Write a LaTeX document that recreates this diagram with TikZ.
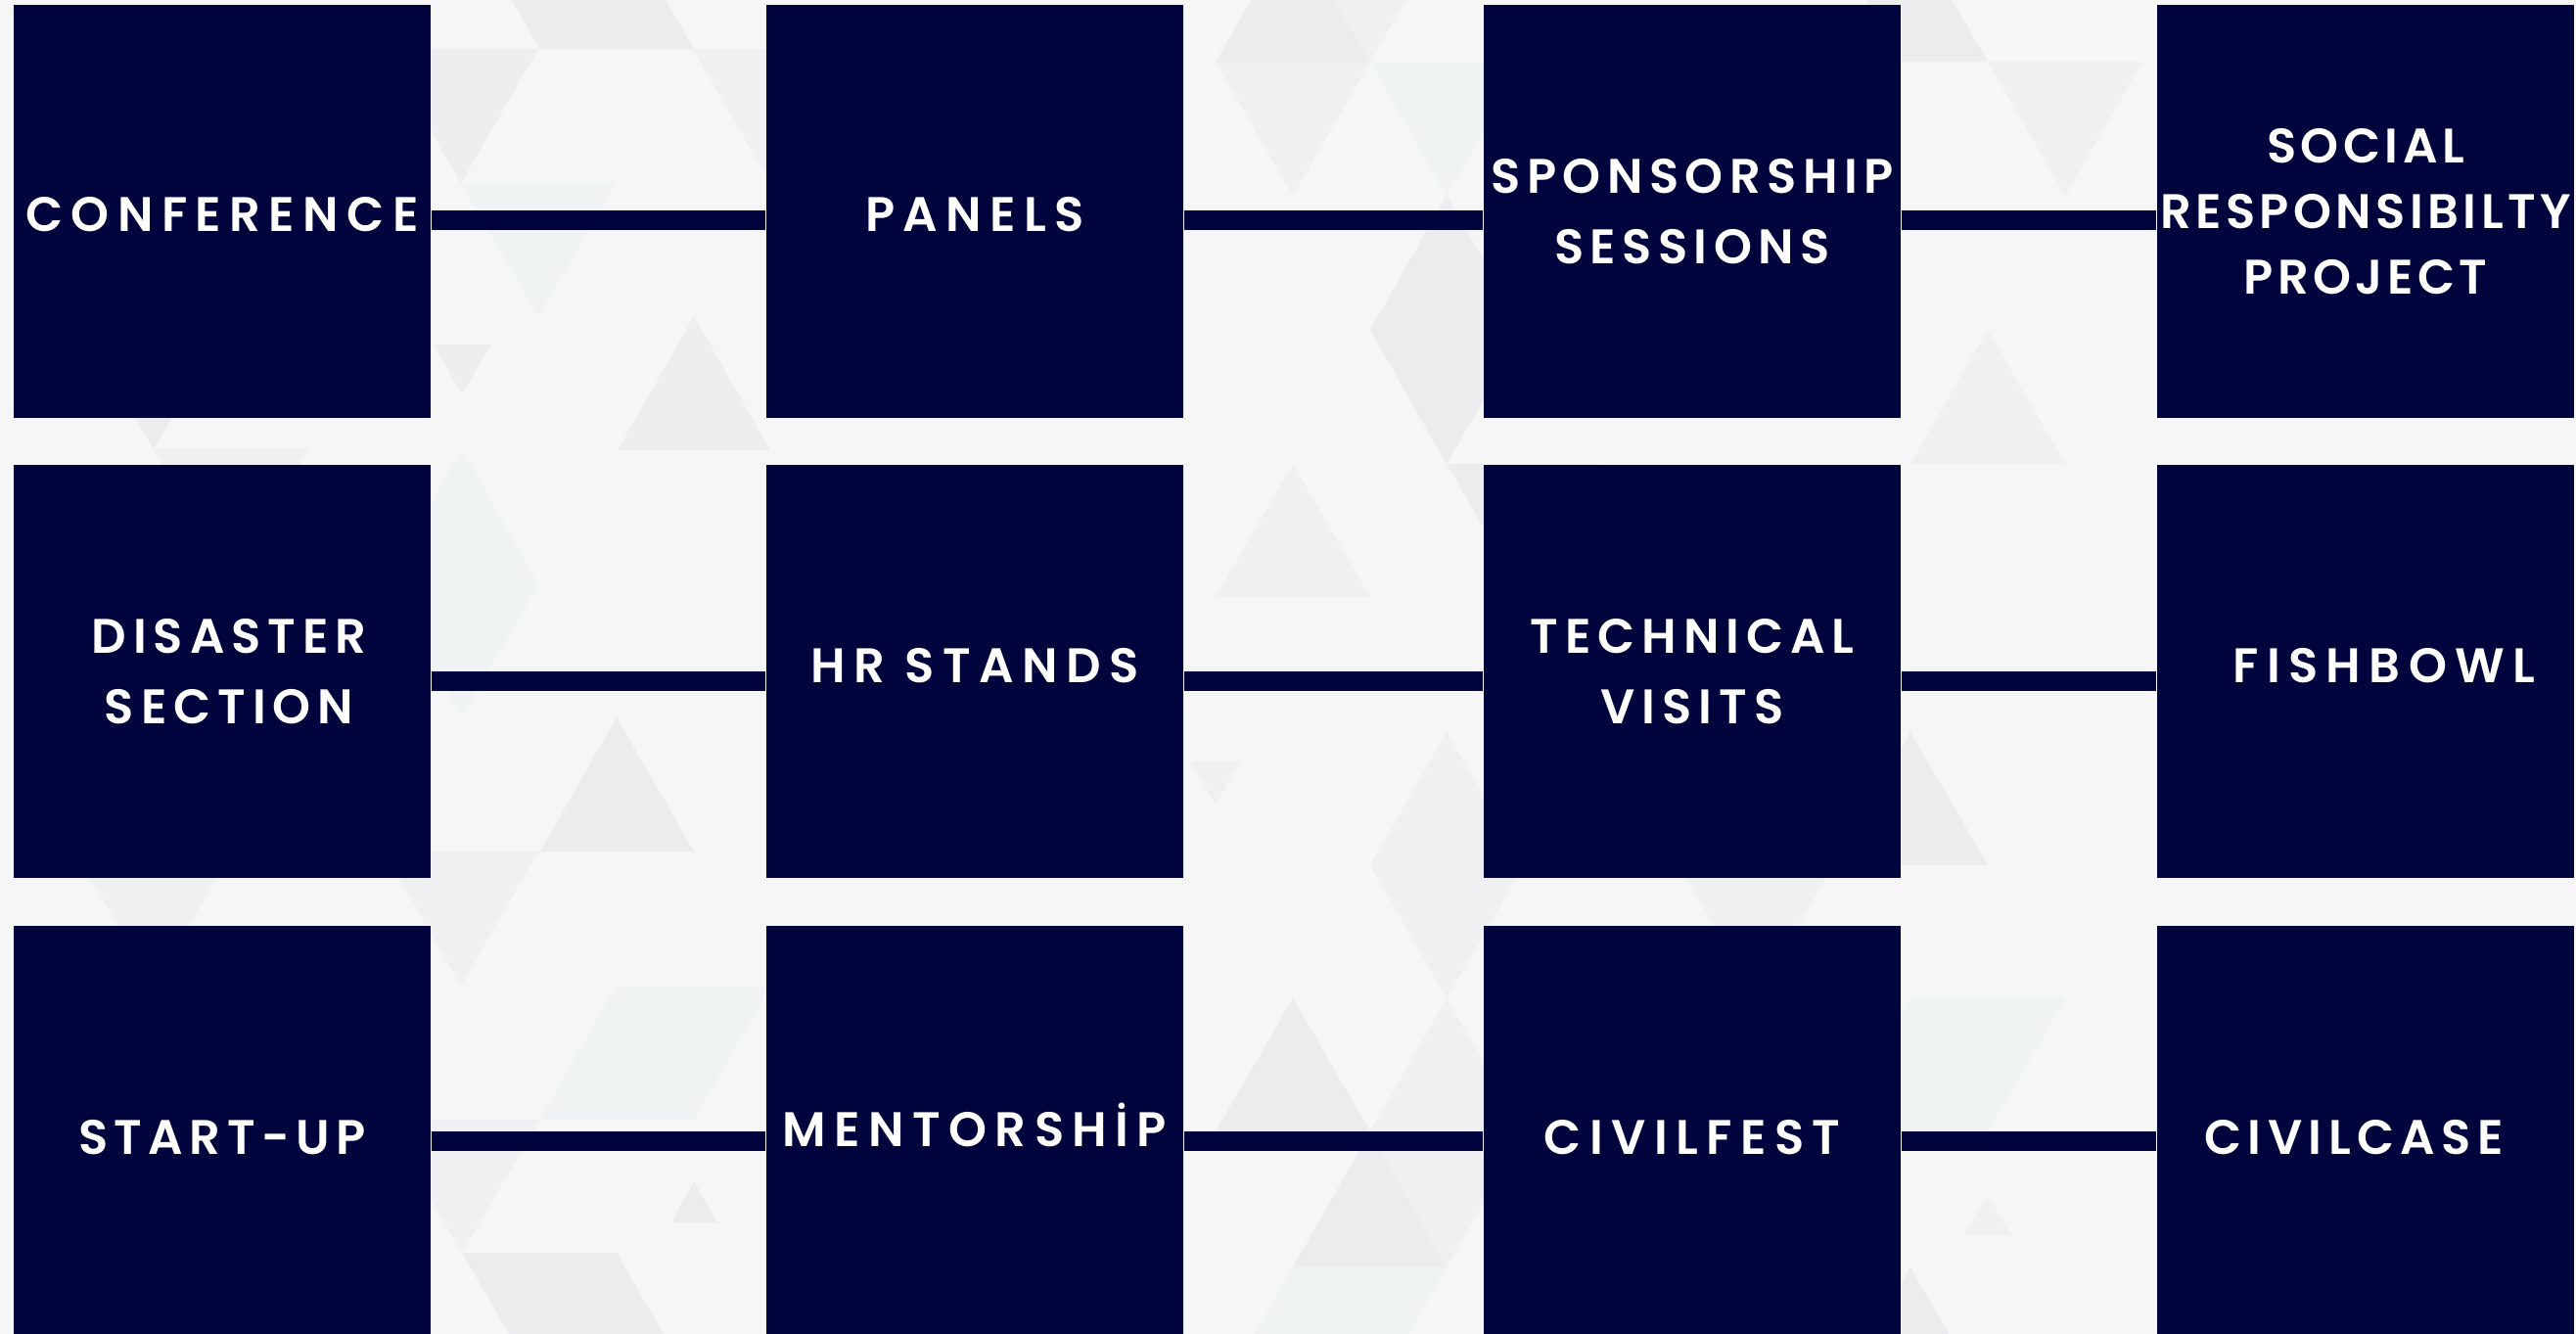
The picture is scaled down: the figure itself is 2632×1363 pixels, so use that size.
\documentclass[tikz,border=0pt]{standalone}
\usepackage{fontspec}
\newfontfamily\boxfont{Poppins SemiBold}[LetterSpace=17]
\usepackage{tikz}
\usetikzlibrary{positioning}
\usetikzlibrary{calc}

\definecolor{navy}{HTML}{00043C}
\definecolor{paper}{HTML}{F6F6F6}
\definecolor{triA}{HTML}{ECECEE}
\definecolor{triB}{HTML}{EEEEF0}
\definecolor{triC}{HTML}{F0F0F2}
\definecolor{triD}{HTML}{EFF3F4}

\newcommand{\nudge}[2]{\raisebox{#1}[\height][\depth]{#2}}

\tikzset{
  event/.style={fill=navy, minimum width=4.26cm, minimum height=4.22cm, inner sep=0pt,
    text=white, align=center, font=\boxfont\fontsize{14.1}{20.5}\selectfont},
  spaced/.style={font=\boxfont\addfontfeatures{LetterSpace=#1}\fontsize{14.1}{20.5}\selectfont},
  bar/.style={draw=navy, line width=0.2cm},
}

\begin{document}
\begin{tikzpicture}[x=0.01cm, y=-0.01cm]
\useasboundingbox (0,0) rectangle (2632,1363);
\fill[paper] (0,0) rectangle (2632,1363);

\fill[triA] (472,-87) -- (630,-87) -- (709,50) -- (552,50) -- cycle;
\fill[triB] (392,50) -- (550,50) -- (471,187) -- cycle;
\fill[triC] (708,50) -- (866,50) -- (787,187) -- cycle;
\fill[triD] (471,187) -- (629,187) -- (550,323) -- cycle;
\fill[triB] (443,352) -- (502,352) -- (472,403) -- cycle;
\fill[triB] (709,323) -- (631,460) -- (787,460) -- cycle;
\fill[triD] (472,460) -- (550,597) -- (472,733) -- (392,597) -- cycle;
\fill[triA] (630,733) -- (552,870) -- (709,870) -- cycle;
\fill[triC] (392,870) -- (550,870) -- (471,1007) -- cycle;
\fill[triD] (630,1007) -- (787,1007) -- (709,1144) -- (552,1144) -- cycle;
\fill[triA] (709,1207) -- (686,1249) -- (733,1249) -- cycle;
\fill[triC] (392,1144) -- (552,1144) -- (472,1280) -- cycle;
\fill[triA] (472,1280) -- (630,1280) -- (709,1417) -- (552,1417) -- cycle;

\fill[triA] (1321,-73) -- (1242,63) -- (1400,63) -- cycle;
\fill[triC] (1321,-73) -- (1478,-73) -- (1400,63) -- cycle;
\fill[triC] (1242,63) -- (1400,63) -- (1321,200) -- cycle;
\fill[triD] (1400,63) -- (1557,63) -- (1478,200) -- cycle;
\fill[triA] (1478,200) -- (1557,337) -- (1478,474) -- (1400,337) -- cycle;
\fill[triA] (1478,474) -- (1636,474) -- (1557,610) -- cycle;
\fill[triC] (1321,474) -- (1242,610) -- (1400,610) -- cycle;
\fill[triC] (1216,778) -- (1267,778) -- (1242,822) -- cycle;
\fill[triC] (1478,748) -- (1557,884) -- (1478,1020) -- (1400,884) -- cycle;
\fill[triA] (1321,1020) -- (1242,1156) -- (1400,1156) -- cycle;
\fill[triC] (1478,1020) -- (1400,1156) -- (1557,1156) -- cycle;
\fill[triA] (1400,1156) -- (1321,1295) -- (1478,1295) -- cycle;
\fill[triC] (1400,1156) -- (1557,1156) -- (1478,1295) -- cycle;
\fill[triD] (1321,1295) -- (1478,1295) -- (1400,1432) -- (1242,1432) -- cycle;

\fill[triA] (1952,-73) -- (1873,63) -- (2031,63) -- cycle;
\fill[triC] (2031,63) -- (2189,63) -- (2110,200) -- cycle;
\fill[triC] (2031,337) -- (1952,474) -- (2110,474) -- cycle;
\fill[triA] (1952,748) -- (1873,884) -- (2031,884) -- cycle;
\fill[triD] (1952,1020) -- (2110,1020) -- (2031,1156) -- (1873,1156) -- cycle;
\fill[triC] (2031,1221) -- (2007,1262) -- (2055,1262) -- cycle;
\fill[triA] (1952,1295) -- (1873,1432) -- (2031,1432) -- cycle;

\fill[triA] (78,322) -- (236,322) -- (157,459) -- cycle;
\fill[triC] (157,459) -- (315,459) -- (236,596) -- cycle;
\fill[triC] (78,873) -- (236,873) -- (157,1007) -- cycle;
\fill[triC] (1715,884) -- (1873,884) -- (1794,1020) -- cycle;

\node[event] (conf) at (227,216) {\nudge{-0.03cm}{CONFERENCE}};
\node[event] (panels) at (996,216) {\nudge{-0.03cm}{PANELS}};
\node[event, spaced=13] (spons) at (1729,216) {SPONSORSHIP\\SESSIONS};
\node[event, font=\boxfont\addfontfeatures{LetterSpace=9}\fontsize{14.1}{19}\selectfont]
  (social) at (2417,216) {SOCIAL\\RESPONSIBILTY\\PROJECT};

\node[event, spaced=14] (disaster) at (227,686) {\hspace*{0.14cm}DISASTER\\\hspace*{0.14cm}SECTION};
\node[event] (hr) at (996,686) {\nudge{0.06cm}{HR STANDS}};
\node[event, spaced=14] (tech) at (1729,686) {TECHNICAL\\VISITS};
\node[event] (fish) at (2417,686) {\nudge{0.06cm}{\hspace*{0.38cm}FISHBOWL}};

\node[event, spaced=13] (startup) at (227,1157) {\nudge{-0.05cm}{START-UP}};
\node[event] (mentor) at (996,1157) {\nudge{0.08cm}{MENTORSHİP}};
\node[event] (civfest) at (1729,1157) {\nudge{-0.05cm}{CIVILFEST}};
\node[event, spaced=13] (civcase) at (2417,1157) {\nudge{-0.05cm}{CIVILCASE\hspace*{0.24cm}}};

\draw[bar] ([yshift=-0.09cm]conf.east) -- ([yshift=-0.09cm]panels.west);
\draw[bar] ([yshift=-0.09cm]panels.east) -- ([yshift=-0.09cm]spons.west);
\draw[bar] ([yshift=-0.09cm]spons.east) -- ([yshift=-0.09cm]social.west);

\draw[bar] ([yshift=-0.1cm]disaster.east) -- ([yshift=-0.1cm]hr.west);
\draw[bar] ([yshift=-0.1cm]hr.east) -- ([yshift=-0.1cm]tech.west);
\draw[bar] ([yshift=-0.1cm]tech.east) -- ([yshift=-0.1cm]fish.west);

\draw[bar] ([yshift=-0.09cm]startup.east) -- ([yshift=-0.09cm]mentor.west);
\draw[bar] ([yshift=-0.09cm]mentor.east) -- ([yshift=-0.09cm]civfest.west);
\draw[bar] ([yshift=-0.09cm]civfest.east) -- ([yshift=-0.09cm]civcase.west);
\end{tikzpicture}
\end{document}
